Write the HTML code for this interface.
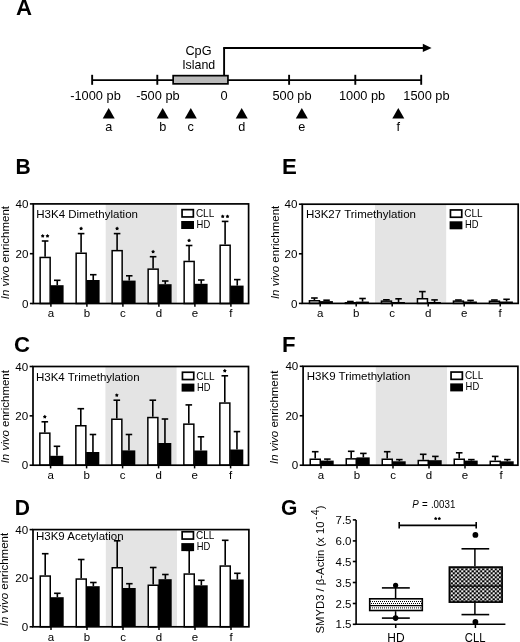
<!DOCTYPE html>
<html><head><meta charset="utf-8"><style>
html,body{margin:0;padding:0;background:#fff;}
body{width:520px;height:642px;overflow:hidden;}
svg{display:block;font-family:"Liberation Sans", sans-serif;will-change:transform;}
</style></head><body>
<svg width="520" height="642" viewBox="0 0 520 642">
<rect width="520" height="642" fill="#fff"/>
<text x="15.90" y="15.00" font-size="22.2" font-weight="bold" fill="#000">A</text>
<text transform="translate(15.60,173.80) scale(0.95,1.0)" font-size="22.2" font-weight="bold" fill="#000">B</text>
<text x="14.00" y="351.90" font-size="22.2" font-weight="bold" fill="#000">C</text>
<text transform="translate(14.80,514.70) scale(0.95,1.0)" font-size="22.2" font-weight="bold" fill="#000">D</text>
<text x="282.00" y="173.90" font-size="22.2" font-weight="bold" fill="#000">E</text>
<text x="282.10" y="351.50" font-size="22.2" font-weight="bold" fill="#000">F</text>
<text transform="translate(280.90,514.60) scale(0.95,1.0)" font-size="22.2" font-weight="bold" fill="#000">G</text>
<line x1="92.15" y1="80.10" x2="421.20" y2="80.10" stroke="#000" stroke-width="1.7"/>
<line x1="92.15" y1="74.80" x2="92.15" y2="84.80" stroke="#000" stroke-width="1.9"/>
<line x1="157.30" y1="74.80" x2="157.30" y2="84.80" stroke="#000" stroke-width="1.9"/>
<line x1="289.10" y1="74.80" x2="289.10" y2="84.80" stroke="#000" stroke-width="1.9"/>
<line x1="355.30" y1="74.80" x2="355.30" y2="84.80" stroke="#000" stroke-width="1.9"/>
<line x1="421.20" y1="74.80" x2="421.20" y2="84.80" stroke="#000" stroke-width="1.9"/>
<rect x="173.15" y="75.65" width="54.80" height="8.20" fill="#b9b9b9" stroke="#000" stroke-width="1.7"/>
<line x1="224.10" y1="48.10" x2="224.10" y2="75.00" stroke="#000" stroke-width="1.9"/>
<line x1="223.15" y1="48.05" x2="424.00" y2="48.05" stroke="#000" stroke-width="1.9"/>
<polygon points="422.8,43.8 431.6,47.9 422.8,52.0" fill="#000"/>
<text transform="translate(198.50,54.80) scale(1.06,1.0)" font-size="12" text-anchor="middle" fill="#000">CpG</text>
<text transform="translate(198.70,68.60) scale(1.035,1.0)" font-size="12" text-anchor="middle" fill="#000">Island</text>
<text transform="translate(70.20,99.60) scale(1.06,1.0)" font-size="12.1" fill="#000">-1000 pb</text>
<text transform="translate(136.20,99.60) scale(1.06,1.0)" font-size="12.1" fill="#000">-500 pb</text>
<text transform="translate(220.60,99.60) scale(1.06,1.0)" font-size="12.1" fill="#000">0</text>
<text transform="translate(272.40,99.60) scale(1.06,1.0)" font-size="12.1" fill="#000">500 pb</text>
<text transform="translate(338.90,99.60) scale(1.06,1.0)" font-size="12.1" fill="#000">1000 pb</text>
<text transform="translate(403.30,99.60) scale(1.06,1.0)" font-size="12.1" fill="#000">1500 pb</text>
<polygon points="108.70,107.9 114.70,118.4 102.70,118.4" fill="#000"/>
<text transform="translate(108.70,130.60) scale(1.06,1.0)" font-size="12" text-anchor="middle" fill="#000">a</text>
<polygon points="162.70,107.9 168.70,118.4 156.70,118.4" fill="#000"/>
<text transform="translate(162.70,130.60) scale(1.06,1.0)" font-size="12" text-anchor="middle" fill="#000">b</text>
<polygon points="190.80,107.9 196.80,118.4 184.80,118.4" fill="#000"/>
<text transform="translate(190.80,130.60) scale(1.06,1.0)" font-size="12" text-anchor="middle" fill="#000">c</text>
<polygon points="241.70,107.9 247.70,118.4 235.70,118.4" fill="#000"/>
<text transform="translate(241.70,130.60) scale(1.06,1.0)" font-size="12" text-anchor="middle" fill="#000">d</text>
<polygon points="301.80,107.9 307.80,118.4 295.80,118.4" fill="#000"/>
<text transform="translate(301.80,130.60) scale(1.06,1.0)" font-size="12" text-anchor="middle" fill="#000">e</text>
<polygon points="398.30,107.9 404.30,118.4 392.30,118.4" fill="#000"/>
<text transform="translate(398.30,130.60) scale(1.06,1.0)" font-size="12" text-anchor="middle" fill="#000">f</text>
<rect x="105.70" y="203.90" width="71.20" height="99.60" fill="#e4e4e4"/>
<text x="36.30" y="218.00" font-size="11.5" fill="#000">H3K4 Dimethylation</text>
<rect x="182.05" y="209.65" width="11.30" height="7.30" fill="#fff" stroke="#000" stroke-width="1.7"/>
<rect x="181.20" y="221.00" width="12.80" height="8.00" fill="#000"/>
<text x="195.90" y="217.00" font-size="10" fill="#000">CLL</text>
<text transform="translate(196.60,228.00) scale(0.94,1.0)" font-size="10" fill="#000">HD</text>
<line x1="45.10" y1="256.70" x2="45.10" y2="241.00" stroke="#000" stroke-width="1.6"/>
<line x1="41.80" y1="241.00" x2="48.40" y2="241.00" stroke="#000" stroke-width="1.6"/>
<line x1="57.25" y1="285.20" x2="57.25" y2="280.30" stroke="#000" stroke-width="1.6"/>
<line x1="54.00" y1="280.30" x2="60.50" y2="280.30" stroke="#000" stroke-width="1.6"/>
<rect x="40.15" y="257.45" width="10.00" height="46.05" fill="#fff" stroke="#000" stroke-width="1.5"/>
<rect x="50.40" y="285.20" width="13.20" height="18.30" fill="#000"/>
<polygon points="42.70,234.00 43.43,235.00 44.60,235.38 43.88,236.38 43.88,237.62 42.70,237.24 41.52,237.62 41.52,236.38 40.80,235.38 41.97,235.00" fill="#000"/>
<polygon points="47.50,234.00 48.23,235.00 49.40,235.38 48.68,236.38 48.68,237.62 47.50,237.24 46.32,237.62 46.32,236.38 45.60,235.38 46.77,235.00" fill="#000"/>
<line x1="50.90" y1="303.50" x2="50.90" y2="306.70" stroke="#000" stroke-width="1.5"/>
<text x="50.90" y="317.30" font-size="11.5" text-anchor="middle" fill="#000">a</text>
<line x1="81.10" y1="252.50" x2="81.10" y2="233.60" stroke="#000" stroke-width="1.6"/>
<line x1="77.80" y1="233.60" x2="84.40" y2="233.60" stroke="#000" stroke-width="1.6"/>
<line x1="93.25" y1="280.00" x2="93.25" y2="274.70" stroke="#000" stroke-width="1.6"/>
<line x1="90.00" y1="274.70" x2="96.50" y2="274.70" stroke="#000" stroke-width="1.6"/>
<rect x="76.15" y="253.25" width="10.00" height="50.25" fill="#fff" stroke="#000" stroke-width="1.5"/>
<rect x="86.40" y="280.00" width="13.20" height="23.50" fill="#000"/>
<polygon points="81.10,226.60 81.83,227.60 83.00,227.98 82.28,228.98 82.28,230.22 81.10,229.84 79.92,230.22 79.92,228.98 79.20,227.98 80.37,227.60" fill="#000"/>
<line x1="86.90" y1="303.50" x2="86.90" y2="306.70" stroke="#000" stroke-width="1.5"/>
<text x="86.90" y="317.30" font-size="11.5" text-anchor="middle" fill="#000">b</text>
<line x1="117.10" y1="249.90" x2="117.10" y2="233.60" stroke="#000" stroke-width="1.6"/>
<line x1="113.80" y1="233.60" x2="120.40" y2="233.60" stroke="#000" stroke-width="1.6"/>
<line x1="129.25" y1="280.60" x2="129.25" y2="275.80" stroke="#000" stroke-width="1.6"/>
<line x1="126.00" y1="275.80" x2="132.50" y2="275.80" stroke="#000" stroke-width="1.6"/>
<rect x="112.15" y="250.65" width="10.00" height="52.85" fill="#fff" stroke="#000" stroke-width="1.5"/>
<rect x="122.40" y="280.60" width="13.20" height="22.90" fill="#000"/>
<polygon points="117.10,226.60 117.83,227.60 119.00,227.98 118.28,228.98 118.28,230.22 117.10,229.84 115.92,230.22 115.92,228.98 115.20,227.98 116.37,227.60" fill="#000"/>
<line x1="122.90" y1="303.50" x2="122.90" y2="306.70" stroke="#000" stroke-width="1.5"/>
<text x="122.90" y="317.30" font-size="11.5" text-anchor="middle" fill="#000">c</text>
<line x1="153.10" y1="268.40" x2="153.10" y2="256.70" stroke="#000" stroke-width="1.6"/>
<line x1="149.80" y1="256.70" x2="156.40" y2="256.70" stroke="#000" stroke-width="1.6"/>
<line x1="165.25" y1="284.20" x2="165.25" y2="281.00" stroke="#000" stroke-width="1.6"/>
<line x1="162.00" y1="281.00" x2="168.50" y2="281.00" stroke="#000" stroke-width="1.6"/>
<rect x="148.15" y="269.15" width="10.00" height="34.35" fill="#fff" stroke="#000" stroke-width="1.5"/>
<rect x="158.40" y="284.20" width="13.20" height="19.30" fill="#000"/>
<polygon points="153.10,249.70 153.83,250.70 155.00,251.08 154.28,252.08 154.28,253.32 153.10,252.94 151.92,253.32 151.92,252.08 151.20,251.08 152.37,250.70" fill="#000"/>
<line x1="158.90" y1="303.50" x2="158.90" y2="306.70" stroke="#000" stroke-width="1.5"/>
<text x="158.90" y="317.30" font-size="11.5" text-anchor="middle" fill="#000">d</text>
<line x1="189.10" y1="260.70" x2="189.10" y2="245.50" stroke="#000" stroke-width="1.6"/>
<line x1="185.80" y1="245.50" x2="192.40" y2="245.50" stroke="#000" stroke-width="1.6"/>
<line x1="201.25" y1="283.80" x2="201.25" y2="280.00" stroke="#000" stroke-width="1.6"/>
<line x1="198.00" y1="280.00" x2="204.50" y2="280.00" stroke="#000" stroke-width="1.6"/>
<rect x="184.15" y="261.45" width="10.00" height="42.05" fill="#fff" stroke="#000" stroke-width="1.5"/>
<rect x="194.40" y="283.80" width="13.20" height="19.70" fill="#000"/>
<polygon points="189.10,238.50 189.83,239.50 191.00,239.88 190.28,240.88 190.28,242.12 189.10,241.74 187.92,242.12 187.92,240.88 187.20,239.88 188.37,239.50" fill="#000"/>
<line x1="194.90" y1="303.50" x2="194.90" y2="306.70" stroke="#000" stroke-width="1.5"/>
<text x="194.90" y="317.30" font-size="11.5" text-anchor="middle" fill="#000">e</text>
<line x1="225.10" y1="244.50" x2="225.10" y2="221.40" stroke="#000" stroke-width="1.6"/>
<line x1="221.80" y1="221.40" x2="228.40" y2="221.40" stroke="#000" stroke-width="1.6"/>
<line x1="237.25" y1="285.60" x2="237.25" y2="279.60" stroke="#000" stroke-width="1.6"/>
<line x1="234.00" y1="279.60" x2="240.50" y2="279.60" stroke="#000" stroke-width="1.6"/>
<rect x="220.15" y="245.25" width="10.00" height="58.25" fill="#fff" stroke="#000" stroke-width="1.5"/>
<rect x="230.40" y="285.60" width="13.20" height="17.90" fill="#000"/>
<polygon points="222.70,214.40 223.43,215.40 224.60,215.78 223.88,216.78 223.88,218.02 222.70,217.64 221.52,218.02 221.52,216.78 220.80,215.78 221.97,215.40" fill="#000"/>
<polygon points="227.50,214.40 228.23,215.40 229.40,215.78 228.68,216.78 228.68,218.02 227.50,217.64 226.32,218.02 226.32,216.78 225.60,215.78 226.77,215.40" fill="#000"/>
<line x1="230.90" y1="303.50" x2="230.90" y2="306.70" stroke="#000" stroke-width="1.5"/>
<text x="230.90" y="317.30" font-size="11.5" text-anchor="middle" fill="#000">f</text>
<rect x="33.30" y="203.90" width="215.30" height="99.60" fill="none" stroke="#000" stroke-width="1.7"/>
<line x1="29.90" y1="303.50" x2="33.30" y2="303.50" stroke="#000" stroke-width="1.6"/>
<text x="28.50" y="307.60" font-size="11.6" text-anchor="end" fill="#000">0</text>
<line x1="29.90" y1="253.70" x2="33.30" y2="253.70" stroke="#000" stroke-width="1.6"/>
<text x="28.50" y="257.80" font-size="11.6" text-anchor="end" fill="#000">20</text>
<line x1="29.90" y1="203.90" x2="33.30" y2="203.90" stroke="#000" stroke-width="1.6"/>
<text x="28.50" y="208.00" font-size="11.6" text-anchor="end" fill="#000">40</text>
<text transform="translate(8.60,252.60) rotate(-90)" x="0" y="0" font-size="11.5" text-anchor="middle" fill="#000"><tspan font-style="italic">In vivo</tspan> enrichment</text>
<rect x="105.40" y="366.50" width="71.20" height="98.70" fill="#e4e4e4"/>
<text x="36.00" y="380.60" font-size="11.5" fill="#000">H3K4 Trimethylation</text>
<rect x="182.45" y="372.25" width="11.30" height="7.30" fill="#fff" stroke="#000" stroke-width="1.7"/>
<rect x="181.60" y="383.60" width="12.80" height="8.00" fill="#000"/>
<text x="196.30" y="379.60" font-size="10" fill="#000">CLL</text>
<text transform="translate(197.00,390.60) scale(0.94,1.0)" font-size="10" fill="#000">HD</text>
<line x1="44.80" y1="432.40" x2="44.80" y2="421.80" stroke="#000" stroke-width="1.6"/>
<line x1="41.50" y1="421.80" x2="48.10" y2="421.80" stroke="#000" stroke-width="1.6"/>
<line x1="56.95" y1="455.80" x2="56.95" y2="446.30" stroke="#000" stroke-width="1.6"/>
<line x1="53.70" y1="446.30" x2="60.20" y2="446.30" stroke="#000" stroke-width="1.6"/>
<rect x="39.85" y="433.15" width="10.00" height="32.05" fill="#fff" stroke="#000" stroke-width="1.5"/>
<rect x="50.10" y="455.80" width="13.20" height="9.40" fill="#000"/>
<polygon points="44.80,414.80 45.53,415.80 46.70,416.18 45.98,417.18 45.98,418.42 44.80,418.04 43.62,418.42 43.62,417.18 42.90,416.18 44.07,415.80" fill="#000"/>
<line x1="50.60" y1="465.20" x2="50.60" y2="468.40" stroke="#000" stroke-width="1.5"/>
<text x="50.60" y="479.00" font-size="11.5" text-anchor="middle" fill="#000">a</text>
<line x1="80.80" y1="425.00" x2="80.80" y2="408.70" stroke="#000" stroke-width="1.6"/>
<line x1="77.50" y1="408.70" x2="84.10" y2="408.70" stroke="#000" stroke-width="1.6"/>
<line x1="92.95" y1="452.00" x2="92.95" y2="434.50" stroke="#000" stroke-width="1.6"/>
<line x1="89.70" y1="434.50" x2="96.20" y2="434.50" stroke="#000" stroke-width="1.6"/>
<rect x="75.85" y="425.75" width="10.00" height="39.45" fill="#fff" stroke="#000" stroke-width="1.5"/>
<rect x="86.10" y="452.00" width="13.20" height="13.20" fill="#000"/>
<line x1="86.60" y1="465.20" x2="86.60" y2="468.40" stroke="#000" stroke-width="1.5"/>
<text x="86.60" y="479.00" font-size="11.5" text-anchor="middle" fill="#000">b</text>
<line x1="116.80" y1="418.50" x2="116.80" y2="400.20" stroke="#000" stroke-width="1.6"/>
<line x1="113.50" y1="400.20" x2="120.10" y2="400.20" stroke="#000" stroke-width="1.6"/>
<line x1="128.95" y1="450.40" x2="128.95" y2="434.50" stroke="#000" stroke-width="1.6"/>
<line x1="125.70" y1="434.50" x2="132.20" y2="434.50" stroke="#000" stroke-width="1.6"/>
<rect x="111.85" y="419.25" width="10.00" height="45.95" fill="#fff" stroke="#000" stroke-width="1.5"/>
<rect x="122.10" y="450.40" width="13.20" height="14.80" fill="#000"/>
<polygon points="116.80,393.20 117.53,394.20 118.70,394.58 117.98,395.58 117.98,396.82 116.80,396.44 115.62,396.82 115.62,395.58 114.90,394.58 116.07,394.20" fill="#000"/>
<line x1="122.60" y1="465.20" x2="122.60" y2="468.40" stroke="#000" stroke-width="1.5"/>
<text x="122.60" y="479.00" font-size="11.5" text-anchor="middle" fill="#000">c</text>
<line x1="152.80" y1="416.80" x2="152.80" y2="400.20" stroke="#000" stroke-width="1.6"/>
<line x1="149.50" y1="400.20" x2="156.10" y2="400.20" stroke="#000" stroke-width="1.6"/>
<line x1="164.95" y1="443.00" x2="164.95" y2="419.00" stroke="#000" stroke-width="1.6"/>
<line x1="161.70" y1="419.00" x2="168.20" y2="419.00" stroke="#000" stroke-width="1.6"/>
<rect x="147.85" y="417.55" width="10.00" height="47.65" fill="#fff" stroke="#000" stroke-width="1.5"/>
<rect x="158.10" y="443.00" width="13.20" height="22.20" fill="#000"/>
<line x1="158.60" y1="465.20" x2="158.60" y2="468.40" stroke="#000" stroke-width="1.5"/>
<text x="158.60" y="479.00" font-size="11.5" text-anchor="middle" fill="#000">d</text>
<line x1="188.80" y1="423.40" x2="188.80" y2="404.90" stroke="#000" stroke-width="1.6"/>
<line x1="185.50" y1="404.90" x2="192.10" y2="404.90" stroke="#000" stroke-width="1.6"/>
<line x1="200.95" y1="450.50" x2="200.95" y2="436.80" stroke="#000" stroke-width="1.6"/>
<line x1="197.70" y1="436.80" x2="204.20" y2="436.80" stroke="#000" stroke-width="1.6"/>
<rect x="183.85" y="424.15" width="10.00" height="41.05" fill="#fff" stroke="#000" stroke-width="1.5"/>
<rect x="194.10" y="450.50" width="13.20" height="14.70" fill="#000"/>
<line x1="194.60" y1="465.20" x2="194.60" y2="468.40" stroke="#000" stroke-width="1.5"/>
<text x="194.60" y="479.00" font-size="11.5" text-anchor="middle" fill="#000">e</text>
<line x1="224.80" y1="402.30" x2="224.80" y2="375.80" stroke="#000" stroke-width="1.6"/>
<line x1="221.50" y1="375.80" x2="228.10" y2="375.80" stroke="#000" stroke-width="1.6"/>
<line x1="236.95" y1="449.50" x2="236.95" y2="431.60" stroke="#000" stroke-width="1.6"/>
<line x1="233.70" y1="431.60" x2="240.20" y2="431.60" stroke="#000" stroke-width="1.6"/>
<rect x="219.85" y="403.05" width="10.00" height="62.15" fill="#fff" stroke="#000" stroke-width="1.5"/>
<rect x="230.10" y="449.50" width="13.20" height="15.70" fill="#000"/>
<polygon points="224.80,368.80 225.53,369.80 226.70,370.18 225.98,371.18 225.98,372.42 224.80,372.04 223.62,372.42 223.62,371.18 222.90,370.18 224.07,369.80" fill="#000"/>
<line x1="230.60" y1="465.20" x2="230.60" y2="468.40" stroke="#000" stroke-width="1.5"/>
<text x="230.60" y="479.00" font-size="11.5" text-anchor="middle" fill="#000">f</text>
<rect x="33.00" y="366.50" width="215.50" height="98.70" fill="none" stroke="#000" stroke-width="1.7"/>
<line x1="29.60" y1="465.20" x2="33.00" y2="465.20" stroke="#000" stroke-width="1.6"/>
<text x="28.20" y="469.30" font-size="11.6" text-anchor="end" fill="#000">0</text>
<line x1="29.60" y1="415.85" x2="33.00" y2="415.85" stroke="#000" stroke-width="1.6"/>
<text x="28.20" y="419.95" font-size="11.6" text-anchor="end" fill="#000">20</text>
<line x1="29.60" y1="366.50" x2="33.00" y2="366.50" stroke="#000" stroke-width="1.6"/>
<text x="28.20" y="370.60" font-size="11.6" text-anchor="end" fill="#000">40</text>
<text transform="translate(8.80,416.70) rotate(-90)" x="0" y="0" font-size="11.5" text-anchor="middle" fill="#000"><tspan font-style="italic">In vivo</tspan> enrichment</text>
<rect x="105.80" y="529.60" width="71.20" height="97.20" fill="#e4e4e4"/>
<text x="36.00" y="540.30" font-size="11.5" fill="#000">H3K9 Acetylation</text>
<rect x="182.15" y="531.75" width="11.30" height="7.30" fill="#fff" stroke="#000" stroke-width="1.7"/>
<rect x="181.30" y="543.10" width="12.80" height="8.00" fill="#000"/>
<text x="196.00" y="539.10" font-size="10" fill="#000">CLL</text>
<text transform="translate(196.70,550.10) scale(0.94,1.0)" font-size="10" fill="#000">HD</text>
<line x1="45.20" y1="575.30" x2="45.20" y2="553.70" stroke="#000" stroke-width="1.6"/>
<line x1="41.90" y1="553.70" x2="48.50" y2="553.70" stroke="#000" stroke-width="1.6"/>
<line x1="57.35" y1="597.20" x2="57.35" y2="593.30" stroke="#000" stroke-width="1.6"/>
<line x1="54.10" y1="593.30" x2="60.60" y2="593.30" stroke="#000" stroke-width="1.6"/>
<rect x="40.25" y="576.05" width="10.00" height="50.75" fill="#fff" stroke="#000" stroke-width="1.5"/>
<rect x="50.50" y="597.20" width="13.20" height="29.60" fill="#000"/>
<line x1="51.00" y1="626.80" x2="51.00" y2="630.00" stroke="#000" stroke-width="1.5"/>
<text x="51.00" y="640.60" font-size="11.5" text-anchor="middle" fill="#000">a</text>
<line x1="81.20" y1="578.30" x2="81.20" y2="559.50" stroke="#000" stroke-width="1.6"/>
<line x1="77.90" y1="559.50" x2="84.50" y2="559.50" stroke="#000" stroke-width="1.6"/>
<line x1="93.35" y1="586.20" x2="93.35" y2="582.50" stroke="#000" stroke-width="1.6"/>
<line x1="90.10" y1="582.50" x2="96.60" y2="582.50" stroke="#000" stroke-width="1.6"/>
<rect x="76.25" y="579.05" width="10.00" height="47.75" fill="#fff" stroke="#000" stroke-width="1.5"/>
<rect x="86.50" y="586.20" width="13.20" height="40.60" fill="#000"/>
<line x1="87.00" y1="626.80" x2="87.00" y2="630.00" stroke="#000" stroke-width="1.5"/>
<text x="87.00" y="640.60" font-size="11.5" text-anchor="middle" fill="#000">b</text>
<line x1="117.20" y1="567.00" x2="117.20" y2="540.80" stroke="#000" stroke-width="1.6"/>
<line x1="113.90" y1="540.80" x2="120.50" y2="540.80" stroke="#000" stroke-width="1.6"/>
<line x1="129.35" y1="588.00" x2="129.35" y2="583.70" stroke="#000" stroke-width="1.6"/>
<line x1="126.10" y1="583.70" x2="132.60" y2="583.70" stroke="#000" stroke-width="1.6"/>
<rect x="112.25" y="567.75" width="10.00" height="59.05" fill="#fff" stroke="#000" stroke-width="1.5"/>
<rect x="122.50" y="588.00" width="13.20" height="38.80" fill="#000"/>
<line x1="123.00" y1="626.80" x2="123.00" y2="630.00" stroke="#000" stroke-width="1.5"/>
<text x="123.00" y="640.60" font-size="11.5" text-anchor="middle" fill="#000">c</text>
<line x1="153.20" y1="584.50" x2="153.20" y2="567.50" stroke="#000" stroke-width="1.6"/>
<line x1="149.90" y1="567.50" x2="156.50" y2="567.50" stroke="#000" stroke-width="1.6"/>
<line x1="165.35" y1="579.20" x2="165.35" y2="574.50" stroke="#000" stroke-width="1.6"/>
<line x1="162.10" y1="574.50" x2="168.60" y2="574.50" stroke="#000" stroke-width="1.6"/>
<rect x="148.25" y="585.25" width="10.00" height="41.55" fill="#fff" stroke="#000" stroke-width="1.5"/>
<rect x="158.50" y="579.20" width="13.20" height="47.60" fill="#000"/>
<line x1="159.00" y1="626.80" x2="159.00" y2="630.00" stroke="#000" stroke-width="1.5"/>
<text x="159.00" y="640.60" font-size="11.5" text-anchor="middle" fill="#000">d</text>
<line x1="189.20" y1="573.30" x2="189.20" y2="550.30" stroke="#000" stroke-width="1.6"/>
<line x1="185.90" y1="550.30" x2="192.50" y2="550.30" stroke="#000" stroke-width="1.6"/>
<line x1="201.35" y1="585.30" x2="201.35" y2="580.30" stroke="#000" stroke-width="1.6"/>
<line x1="198.10" y1="580.30" x2="204.60" y2="580.30" stroke="#000" stroke-width="1.6"/>
<rect x="184.25" y="574.05" width="10.00" height="52.75" fill="#fff" stroke="#000" stroke-width="1.5"/>
<rect x="194.50" y="585.30" width="13.20" height="41.50" fill="#000"/>
<line x1="195.00" y1="626.80" x2="195.00" y2="630.00" stroke="#000" stroke-width="1.5"/>
<text x="195.00" y="640.60" font-size="11.5" text-anchor="middle" fill="#000">e</text>
<line x1="225.20" y1="565.30" x2="225.20" y2="540.30" stroke="#000" stroke-width="1.6"/>
<line x1="221.90" y1="540.30" x2="228.50" y2="540.30" stroke="#000" stroke-width="1.6"/>
<line x1="237.35" y1="579.50" x2="237.35" y2="573.30" stroke="#000" stroke-width="1.6"/>
<line x1="234.10" y1="573.30" x2="240.60" y2="573.30" stroke="#000" stroke-width="1.6"/>
<rect x="220.25" y="566.05" width="10.00" height="60.75" fill="#fff" stroke="#000" stroke-width="1.5"/>
<rect x="230.50" y="579.50" width="13.20" height="47.30" fill="#000"/>
<line x1="231.00" y1="626.80" x2="231.00" y2="630.00" stroke="#000" stroke-width="1.5"/>
<text x="231.00" y="640.60" font-size="11.5" text-anchor="middle" fill="#000">f</text>
<rect x="33.00" y="529.60" width="215.90" height="97.20" fill="none" stroke="#000" stroke-width="1.7"/>
<line x1="29.60" y1="626.80" x2="33.00" y2="626.80" stroke="#000" stroke-width="1.6"/>
<text x="28.20" y="630.90" font-size="11.6" text-anchor="end" fill="#000">0</text>
<line x1="29.60" y1="578.20" x2="33.00" y2="578.20" stroke="#000" stroke-width="1.6"/>
<text x="28.20" y="582.30" font-size="11.6" text-anchor="end" fill="#000">20</text>
<line x1="29.60" y1="529.60" x2="33.00" y2="529.60" stroke="#000" stroke-width="1.6"/>
<text x="28.20" y="533.70" font-size="11.6" text-anchor="end" fill="#000">40</text>
<text transform="translate(8.10,579.50) rotate(-90)" x="0" y="0" font-size="11.5" text-anchor="middle" fill="#000"><tspan font-style="italic">In vivo</tspan> enrichment</text>
<rect x="375.00" y="204.20" width="71.20" height="99.20" fill="#e4e4e4"/>
<text x="306.00" y="218.30" font-size="11.5" fill="#000">H3K27 Trimethylation</text>
<rect x="450.45" y="209.95" width="11.30" height="7.30" fill="#fff" stroke="#000" stroke-width="1.7"/>
<rect x="449.60" y="221.30" width="12.80" height="8.00" fill="#000"/>
<text x="464.30" y="217.30" font-size="10" fill="#000">CLL</text>
<text transform="translate(465.00,228.30) scale(0.94,1.0)" font-size="10" fill="#000">HD</text>
<line x1="314.40" y1="300.00" x2="314.40" y2="298.00" stroke="#000" stroke-width="1.6"/>
<line x1="311.10" y1="298.00" x2="317.70" y2="298.00" stroke="#000" stroke-width="1.6"/>
<line x1="326.55" y1="301.10" x2="326.55" y2="300.20" stroke="#000" stroke-width="1.6"/>
<line x1="323.30" y1="300.20" x2="329.80" y2="300.20" stroke="#000" stroke-width="1.6"/>
<rect x="309.45" y="300.75" width="10.00" height="2.65" fill="#fff" stroke="#000" stroke-width="1.5"/>
<rect x="319.70" y="301.10" width="13.20" height="2.30" fill="#000"/>
<line x1="320.20" y1="303.40" x2="320.20" y2="306.60" stroke="#000" stroke-width="1.5"/>
<text x="320.20" y="317.20" font-size="11.5" text-anchor="middle" fill="#000">a</text>
<line x1="350.40" y1="302.00" x2="350.40" y2="301.50" stroke="#000" stroke-width="1.6"/>
<line x1="347.10" y1="301.50" x2="353.70" y2="301.50" stroke="#000" stroke-width="1.6"/>
<line x1="362.55" y1="301.60" x2="362.55" y2="298.50" stroke="#000" stroke-width="1.6"/>
<line x1="359.30" y1="298.50" x2="365.80" y2="298.50" stroke="#000" stroke-width="1.6"/>
<rect x="345.45" y="302.75" width="10.00" height="0.65" fill="#fff" stroke="#000" stroke-width="1.5"/>
<rect x="355.70" y="301.60" width="13.20" height="1.80" fill="#000"/>
<line x1="356.20" y1="303.40" x2="356.20" y2="306.60" stroke="#000" stroke-width="1.5"/>
<text x="356.20" y="317.20" font-size="11.5" text-anchor="middle" fill="#000">b</text>
<line x1="386.40" y1="300.40" x2="386.40" y2="299.80" stroke="#000" stroke-width="1.6"/>
<line x1="383.10" y1="299.80" x2="389.70" y2="299.80" stroke="#000" stroke-width="1.6"/>
<line x1="398.55" y1="302.00" x2="398.55" y2="298.80" stroke="#000" stroke-width="1.6"/>
<line x1="395.30" y1="298.80" x2="401.80" y2="298.80" stroke="#000" stroke-width="1.6"/>
<rect x="381.45" y="301.15" width="10.00" height="2.25" fill="#fff" stroke="#000" stroke-width="1.5"/>
<rect x="391.70" y="302.00" width="13.20" height="1.40" fill="#000"/>
<line x1="392.20" y1="303.40" x2="392.20" y2="306.60" stroke="#000" stroke-width="1.5"/>
<text x="392.20" y="317.20" font-size="11.5" text-anchor="middle" fill="#000">c</text>
<line x1="422.40" y1="298.00" x2="422.40" y2="291.60" stroke="#000" stroke-width="1.6"/>
<line x1="419.10" y1="291.60" x2="425.70" y2="291.60" stroke="#000" stroke-width="1.6"/>
<line x1="434.55" y1="302.00" x2="434.55" y2="299.90" stroke="#000" stroke-width="1.6"/>
<line x1="431.30" y1="299.90" x2="437.80" y2="299.90" stroke="#000" stroke-width="1.6"/>
<rect x="417.45" y="298.75" width="10.00" height="4.65" fill="#fff" stroke="#000" stroke-width="1.5"/>
<rect x="427.70" y="302.00" width="13.20" height="1.40" fill="#000"/>
<line x1="428.20" y1="303.40" x2="428.20" y2="306.60" stroke="#000" stroke-width="1.5"/>
<text x="428.20" y="317.20" font-size="11.5" text-anchor="middle" fill="#000">d</text>
<line x1="458.40" y1="300.40" x2="458.40" y2="300.00" stroke="#000" stroke-width="1.6"/>
<line x1="455.10" y1="300.00" x2="461.70" y2="300.00" stroke="#000" stroke-width="1.6"/>
<line x1="470.55" y1="301.50" x2="470.55" y2="300.40" stroke="#000" stroke-width="1.6"/>
<line x1="467.30" y1="300.40" x2="473.80" y2="300.40" stroke="#000" stroke-width="1.6"/>
<rect x="453.45" y="301.15" width="10.00" height="2.25" fill="#fff" stroke="#000" stroke-width="1.5"/>
<rect x="463.70" y="301.50" width="13.20" height="1.90" fill="#000"/>
<line x1="464.20" y1="303.40" x2="464.20" y2="306.60" stroke="#000" stroke-width="1.5"/>
<text x="464.20" y="317.20" font-size="11.5" text-anchor="middle" fill="#000">e</text>
<line x1="494.40" y1="300.50" x2="494.40" y2="300.00" stroke="#000" stroke-width="1.6"/>
<line x1="491.10" y1="300.00" x2="497.70" y2="300.00" stroke="#000" stroke-width="1.6"/>
<line x1="506.55" y1="301.50" x2="506.55" y2="299.30" stroke="#000" stroke-width="1.6"/>
<line x1="503.30" y1="299.30" x2="509.80" y2="299.30" stroke="#000" stroke-width="1.6"/>
<rect x="489.45" y="301.25" width="10.00" height="2.15" fill="#fff" stroke="#000" stroke-width="1.5"/>
<rect x="499.70" y="301.50" width="13.20" height="1.90" fill="#000"/>
<line x1="500.20" y1="303.40" x2="500.20" y2="306.60" stroke="#000" stroke-width="1.5"/>
<text x="500.20" y="317.20" font-size="11.5" text-anchor="middle" fill="#000">f</text>
<rect x="302.30" y="204.20" width="215.90" height="99.20" fill="none" stroke="#000" stroke-width="1.7"/>
<line x1="298.90" y1="303.40" x2="302.30" y2="303.40" stroke="#000" stroke-width="1.6"/>
<text x="297.50" y="307.50" font-size="11.6" text-anchor="end" fill="#000">0</text>
<line x1="298.90" y1="253.80" x2="302.30" y2="253.80" stroke="#000" stroke-width="1.6"/>
<text x="297.50" y="257.90" font-size="11.6" text-anchor="end" fill="#000">20</text>
<line x1="298.90" y1="204.20" x2="302.30" y2="204.20" stroke="#000" stroke-width="1.6"/>
<text x="297.50" y="208.30" font-size="11.6" text-anchor="end" fill="#000">40</text>
<text transform="translate(278.70,252.40) rotate(-90)" x="0" y="0" font-size="11.5" text-anchor="middle" fill="#000"><tspan font-style="italic">In vivo</tspan> enrichment</text>
<rect x="375.80" y="366.30" width="71.20" height="98.90" fill="#e4e4e4"/>
<text x="306.80" y="380.40" font-size="11.5" fill="#000">H3K9 Trimethylation</text>
<rect x="451.05" y="372.05" width="11.30" height="7.30" fill="#fff" stroke="#000" stroke-width="1.7"/>
<rect x="450.20" y="383.40" width="12.80" height="8.00" fill="#000"/>
<text x="464.90" y="379.40" font-size="10" fill="#000">CLL</text>
<text transform="translate(465.60,390.40) scale(0.94,1.0)" font-size="10" fill="#000">HD</text>
<line x1="315.20" y1="458.50" x2="315.20" y2="451.70" stroke="#000" stroke-width="1.6"/>
<line x1="311.90" y1="451.70" x2="318.50" y2="451.70" stroke="#000" stroke-width="1.6"/>
<line x1="327.35" y1="460.60" x2="327.35" y2="459.10" stroke="#000" stroke-width="1.6"/>
<line x1="324.10" y1="459.10" x2="330.60" y2="459.10" stroke="#000" stroke-width="1.6"/>
<rect x="310.25" y="459.25" width="10.00" height="5.95" fill="#fff" stroke="#000" stroke-width="1.5"/>
<rect x="320.50" y="460.60" width="13.20" height="4.60" fill="#000"/>
<line x1="321.00" y1="465.20" x2="321.00" y2="468.40" stroke="#000" stroke-width="1.5"/>
<text x="321.00" y="479.00" font-size="11.5" text-anchor="middle" fill="#000">a</text>
<line x1="351.20" y1="458.10" x2="351.20" y2="451.30" stroke="#000" stroke-width="1.6"/>
<line x1="347.90" y1="451.30" x2="354.50" y2="451.30" stroke="#000" stroke-width="1.6"/>
<line x1="363.35" y1="457.40" x2="363.35" y2="453.40" stroke="#000" stroke-width="1.6"/>
<line x1="360.10" y1="453.40" x2="366.60" y2="453.40" stroke="#000" stroke-width="1.6"/>
<rect x="346.25" y="458.85" width="10.00" height="6.35" fill="#fff" stroke="#000" stroke-width="1.5"/>
<rect x="356.50" y="457.40" width="13.20" height="7.80" fill="#000"/>
<line x1="357.00" y1="465.20" x2="357.00" y2="468.40" stroke="#000" stroke-width="1.5"/>
<text x="357.00" y="479.00" font-size="11.5" text-anchor="middle" fill="#000">b</text>
<line x1="387.20" y1="458.50" x2="387.20" y2="451.70" stroke="#000" stroke-width="1.6"/>
<line x1="383.90" y1="451.70" x2="390.50" y2="451.70" stroke="#000" stroke-width="1.6"/>
<line x1="399.35" y1="461.30" x2="399.35" y2="459.60" stroke="#000" stroke-width="1.6"/>
<line x1="396.10" y1="459.60" x2="402.60" y2="459.60" stroke="#000" stroke-width="1.6"/>
<rect x="382.25" y="459.25" width="10.00" height="5.95" fill="#fff" stroke="#000" stroke-width="1.5"/>
<rect x="392.50" y="461.30" width="13.20" height="3.90" fill="#000"/>
<line x1="393.00" y1="465.20" x2="393.00" y2="468.40" stroke="#000" stroke-width="1.5"/>
<text x="393.00" y="479.00" font-size="11.5" text-anchor="middle" fill="#000">c</text>
<line x1="423.20" y1="459.80" x2="423.20" y2="454.30" stroke="#000" stroke-width="1.6"/>
<line x1="419.90" y1="454.30" x2="426.50" y2="454.30" stroke="#000" stroke-width="1.6"/>
<line x1="435.35" y1="460.20" x2="435.35" y2="456.40" stroke="#000" stroke-width="1.6"/>
<line x1="432.10" y1="456.40" x2="438.60" y2="456.40" stroke="#000" stroke-width="1.6"/>
<rect x="418.25" y="460.55" width="10.00" height="4.65" fill="#fff" stroke="#000" stroke-width="1.5"/>
<rect x="428.50" y="460.20" width="13.20" height="5.00" fill="#000"/>
<line x1="429.00" y1="465.20" x2="429.00" y2="468.40" stroke="#000" stroke-width="1.5"/>
<text x="429.00" y="479.00" font-size="11.5" text-anchor="middle" fill="#000">d</text>
<line x1="459.20" y1="458.50" x2="459.20" y2="452.80" stroke="#000" stroke-width="1.6"/>
<line x1="455.90" y1="452.80" x2="462.50" y2="452.80" stroke="#000" stroke-width="1.6"/>
<line x1="471.35" y1="460.60" x2="471.35" y2="459.60" stroke="#000" stroke-width="1.6"/>
<line x1="468.10" y1="459.60" x2="474.60" y2="459.60" stroke="#000" stroke-width="1.6"/>
<rect x="454.25" y="459.25" width="10.00" height="5.95" fill="#fff" stroke="#000" stroke-width="1.5"/>
<rect x="464.50" y="460.60" width="13.20" height="4.60" fill="#000"/>
<line x1="465.00" y1="465.20" x2="465.00" y2="468.40" stroke="#000" stroke-width="1.5"/>
<text x="465.00" y="479.00" font-size="11.5" text-anchor="middle" fill="#000">e</text>
<line x1="495.20" y1="460.60" x2="495.20" y2="456.40" stroke="#000" stroke-width="1.6"/>
<line x1="491.90" y1="456.40" x2="498.50" y2="456.40" stroke="#000" stroke-width="1.6"/>
<line x1="507.35" y1="461.30" x2="507.35" y2="459.60" stroke="#000" stroke-width="1.6"/>
<line x1="504.10" y1="459.60" x2="510.60" y2="459.60" stroke="#000" stroke-width="1.6"/>
<rect x="490.25" y="461.35" width="10.00" height="3.85" fill="#fff" stroke="#000" stroke-width="1.5"/>
<rect x="500.50" y="461.30" width="13.20" height="3.90" fill="#000"/>
<line x1="501.00" y1="465.20" x2="501.00" y2="468.40" stroke="#000" stroke-width="1.5"/>
<text x="501.00" y="479.00" font-size="11.5" text-anchor="middle" fill="#000">f</text>
<rect x="303.10" y="366.30" width="214.80" height="98.90" fill="none" stroke="#000" stroke-width="1.7"/>
<line x1="299.70" y1="465.20" x2="303.10" y2="465.20" stroke="#000" stroke-width="1.6"/>
<text x="298.30" y="469.30" font-size="11.6" text-anchor="end" fill="#000">0</text>
<line x1="299.70" y1="415.75" x2="303.10" y2="415.75" stroke="#000" stroke-width="1.6"/>
<text x="298.30" y="419.85" font-size="11.6" text-anchor="end" fill="#000">20</text>
<line x1="299.70" y1="366.30" x2="303.10" y2="366.30" stroke="#000" stroke-width="1.6"/>
<text x="298.30" y="370.40" font-size="11.6" text-anchor="end" fill="#000">40</text>
<text transform="translate(278.40,417.30) rotate(-90)" x="0" y="0" font-size="11.5" text-anchor="middle" fill="#000"><tspan font-style="italic">In vivo</tspan> enrichment</text>
<line x1="356.10" y1="519.90" x2="356.10" y2="624.30" stroke="#000" stroke-width="1.6"/>
<line x1="355.30" y1="624.30" x2="505.40" y2="624.30" stroke="#000" stroke-width="1.6"/>
<line x1="352.80" y1="519.90" x2="356.10" y2="519.90" stroke="#000" stroke-width="1.6"/>
<text x="351.50" y="523.90" font-size="11.5" text-anchor="end" fill="#000">7.5</text>
<line x1="352.80" y1="540.90" x2="356.10" y2="540.90" stroke="#000" stroke-width="1.6"/>
<text x="351.50" y="544.90" font-size="11.5" text-anchor="end" fill="#000">6.0</text>
<line x1="352.80" y1="561.50" x2="356.10" y2="561.50" stroke="#000" stroke-width="1.6"/>
<text x="351.50" y="565.50" font-size="11.5" text-anchor="end" fill="#000">4.5</text>
<line x1="352.80" y1="582.50" x2="356.10" y2="582.50" stroke="#000" stroke-width="1.6"/>
<text x="351.50" y="586.50" font-size="11.5" text-anchor="end" fill="#000">3.5</text>
<line x1="352.80" y1="603.50" x2="356.10" y2="603.50" stroke="#000" stroke-width="1.6"/>
<text x="351.50" y="607.50" font-size="11.5" text-anchor="end" fill="#000">2.5</text>
<line x1="352.80" y1="624.30" x2="356.10" y2="624.30" stroke="#000" stroke-width="1.6"/>
<text x="351.50" y="628.30" font-size="11.5" text-anchor="end" fill="#000">1.5</text>
<line x1="395.70" y1="624.30" x2="395.70" y2="628.00" stroke="#000" stroke-width="1.5"/>
<line x1="475.40" y1="624.30" x2="475.40" y2="628.00" stroke="#000" stroke-width="1.5"/>
<text x="396.00" y="641.90" font-size="12" text-anchor="middle" fill="#000">HD</text>
<text transform="translate(475.10,641.90) scale(0.94,1.0)" font-size="12" text-anchor="middle" fill="#000">CLL</text>
<defs>
<pattern id="pCLL" x="448.6" y="566.3" width="4.2" height="4.0" patternUnits="userSpaceOnUse"><rect width="4.2" height="4.0" fill="#000"/><circle cx="1.05" cy="1.0" r="1.12" fill="#fff"/><circle cx="3.15" cy="3.0" r="1.12" fill="#fff"/></pattern>
</defs>
<line x1="395.60" y1="587.90" x2="395.60" y2="598.10" stroke="#000" stroke-width="1.5"/>
<line x1="395.60" y1="611.20" x2="395.60" y2="618.10" stroke="#000" stroke-width="1.5"/>
<line x1="381.90" y1="587.90" x2="409.80" y2="587.90" stroke="#000" stroke-width="1.6"/>
<line x1="381.90" y1="618.10" x2="409.80" y2="618.10" stroke="#000" stroke-width="1.6"/>
<rect x="369.7" y="598.8" width="52.6" height="11.7" fill="#fff" stroke="#000" stroke-width="1.6"/>
<line x1="370" y1="601.5" x2="422" y2="601.5" stroke="#000" stroke-width="1.0" stroke-dasharray="1 1"/>
<line x1="371" y1="603.5" x2="422" y2="603.5" stroke="#000" stroke-width="1.0" stroke-dasharray="1 1"/>
<line x1="370.00" y1="605.60" x2="422.40" y2="605.60" stroke="#000" stroke-width="1.4"/>
<line x1="370" y1="607.9" x2="422" y2="607.9" stroke="#000" stroke-width="1.0" stroke-dasharray="1 1"/>
<circle cx="395.6" cy="585.3" r="2.6" fill="#000"/>
<circle cx="395.6" cy="618.1" r="2.8" fill="#000"/>
<line x1="474.90" y1="548.80" x2="474.90" y2="566.20" stroke="#000" stroke-width="1.5"/>
<line x1="474.90" y1="602.80" x2="474.90" y2="614.60" stroke="#000" stroke-width="1.5"/>
<line x1="461.50" y1="548.80" x2="489.20" y2="548.80" stroke="#000" stroke-width="1.6"/>
<line x1="461.50" y1="614.60" x2="489.20" y2="614.60" stroke="#000" stroke-width="1.6"/>
<rect x="449.4" y="567.1" width="52.7" height="35.0" fill="url(#pCLL)" stroke="#000" stroke-width="1.7"/>
<line x1="449.50" y1="586.20" x2="502.00" y2="586.20" stroke="#000" stroke-width="1.2"/>
<circle cx="475.4" cy="534.9" r="2.9" fill="#000"/>
<circle cx="475.4" cy="622.0" r="2.9" fill="#000"/>
<line x1="399.20" y1="525.40" x2="476.20" y2="525.40" stroke="#000" stroke-width="1.7"/>
<line x1="399.20" y1="522.00" x2="399.20" y2="528.40" stroke="#000" stroke-width="1.6"/>
<line x1="476.20" y1="522.00" x2="476.20" y2="528.40" stroke="#000" stroke-width="1.6"/>
<polygon points="435.70,516.80 436.36,517.70 437.41,518.04 436.76,518.94 436.76,520.06 435.70,519.72 434.64,520.06 434.64,518.94 433.99,518.04 435.04,517.70" fill="#000"/>
<polygon points="439.30,516.80 439.96,517.70 441.01,518.04 440.36,518.94 440.36,520.06 439.30,519.72 438.24,520.06 438.24,518.94 437.59,518.04 438.64,517.70" fill="#000"/>
<text transform="translate(412.30,507.60) scale(0.93,1.0)" font-size="10.5" font-style="italic" fill="#000">P</text>
<text transform="translate(421.90,507.60) scale(0.93,1.0)" font-size="10.5" fill="#000">=</text>
<text transform="translate(430.90,507.60) scale(0.93,1.0)" font-size="10.5" fill="#000">.0031</text>
<text transform="translate(324.4,633.5) rotate(-90)" x="0" y="0" font-size="11.3" fill="#000">SMYD3 / &#946;-Actin (x 10<tspan font-size="9.5" dx="1.8" dy="-5.3">-</tspan><tspan font-size="10.5" dx="1.2">4</tspan><tspan dy="5.3" dx="0.2">)</tspan></text>
</svg>
</body></html>
